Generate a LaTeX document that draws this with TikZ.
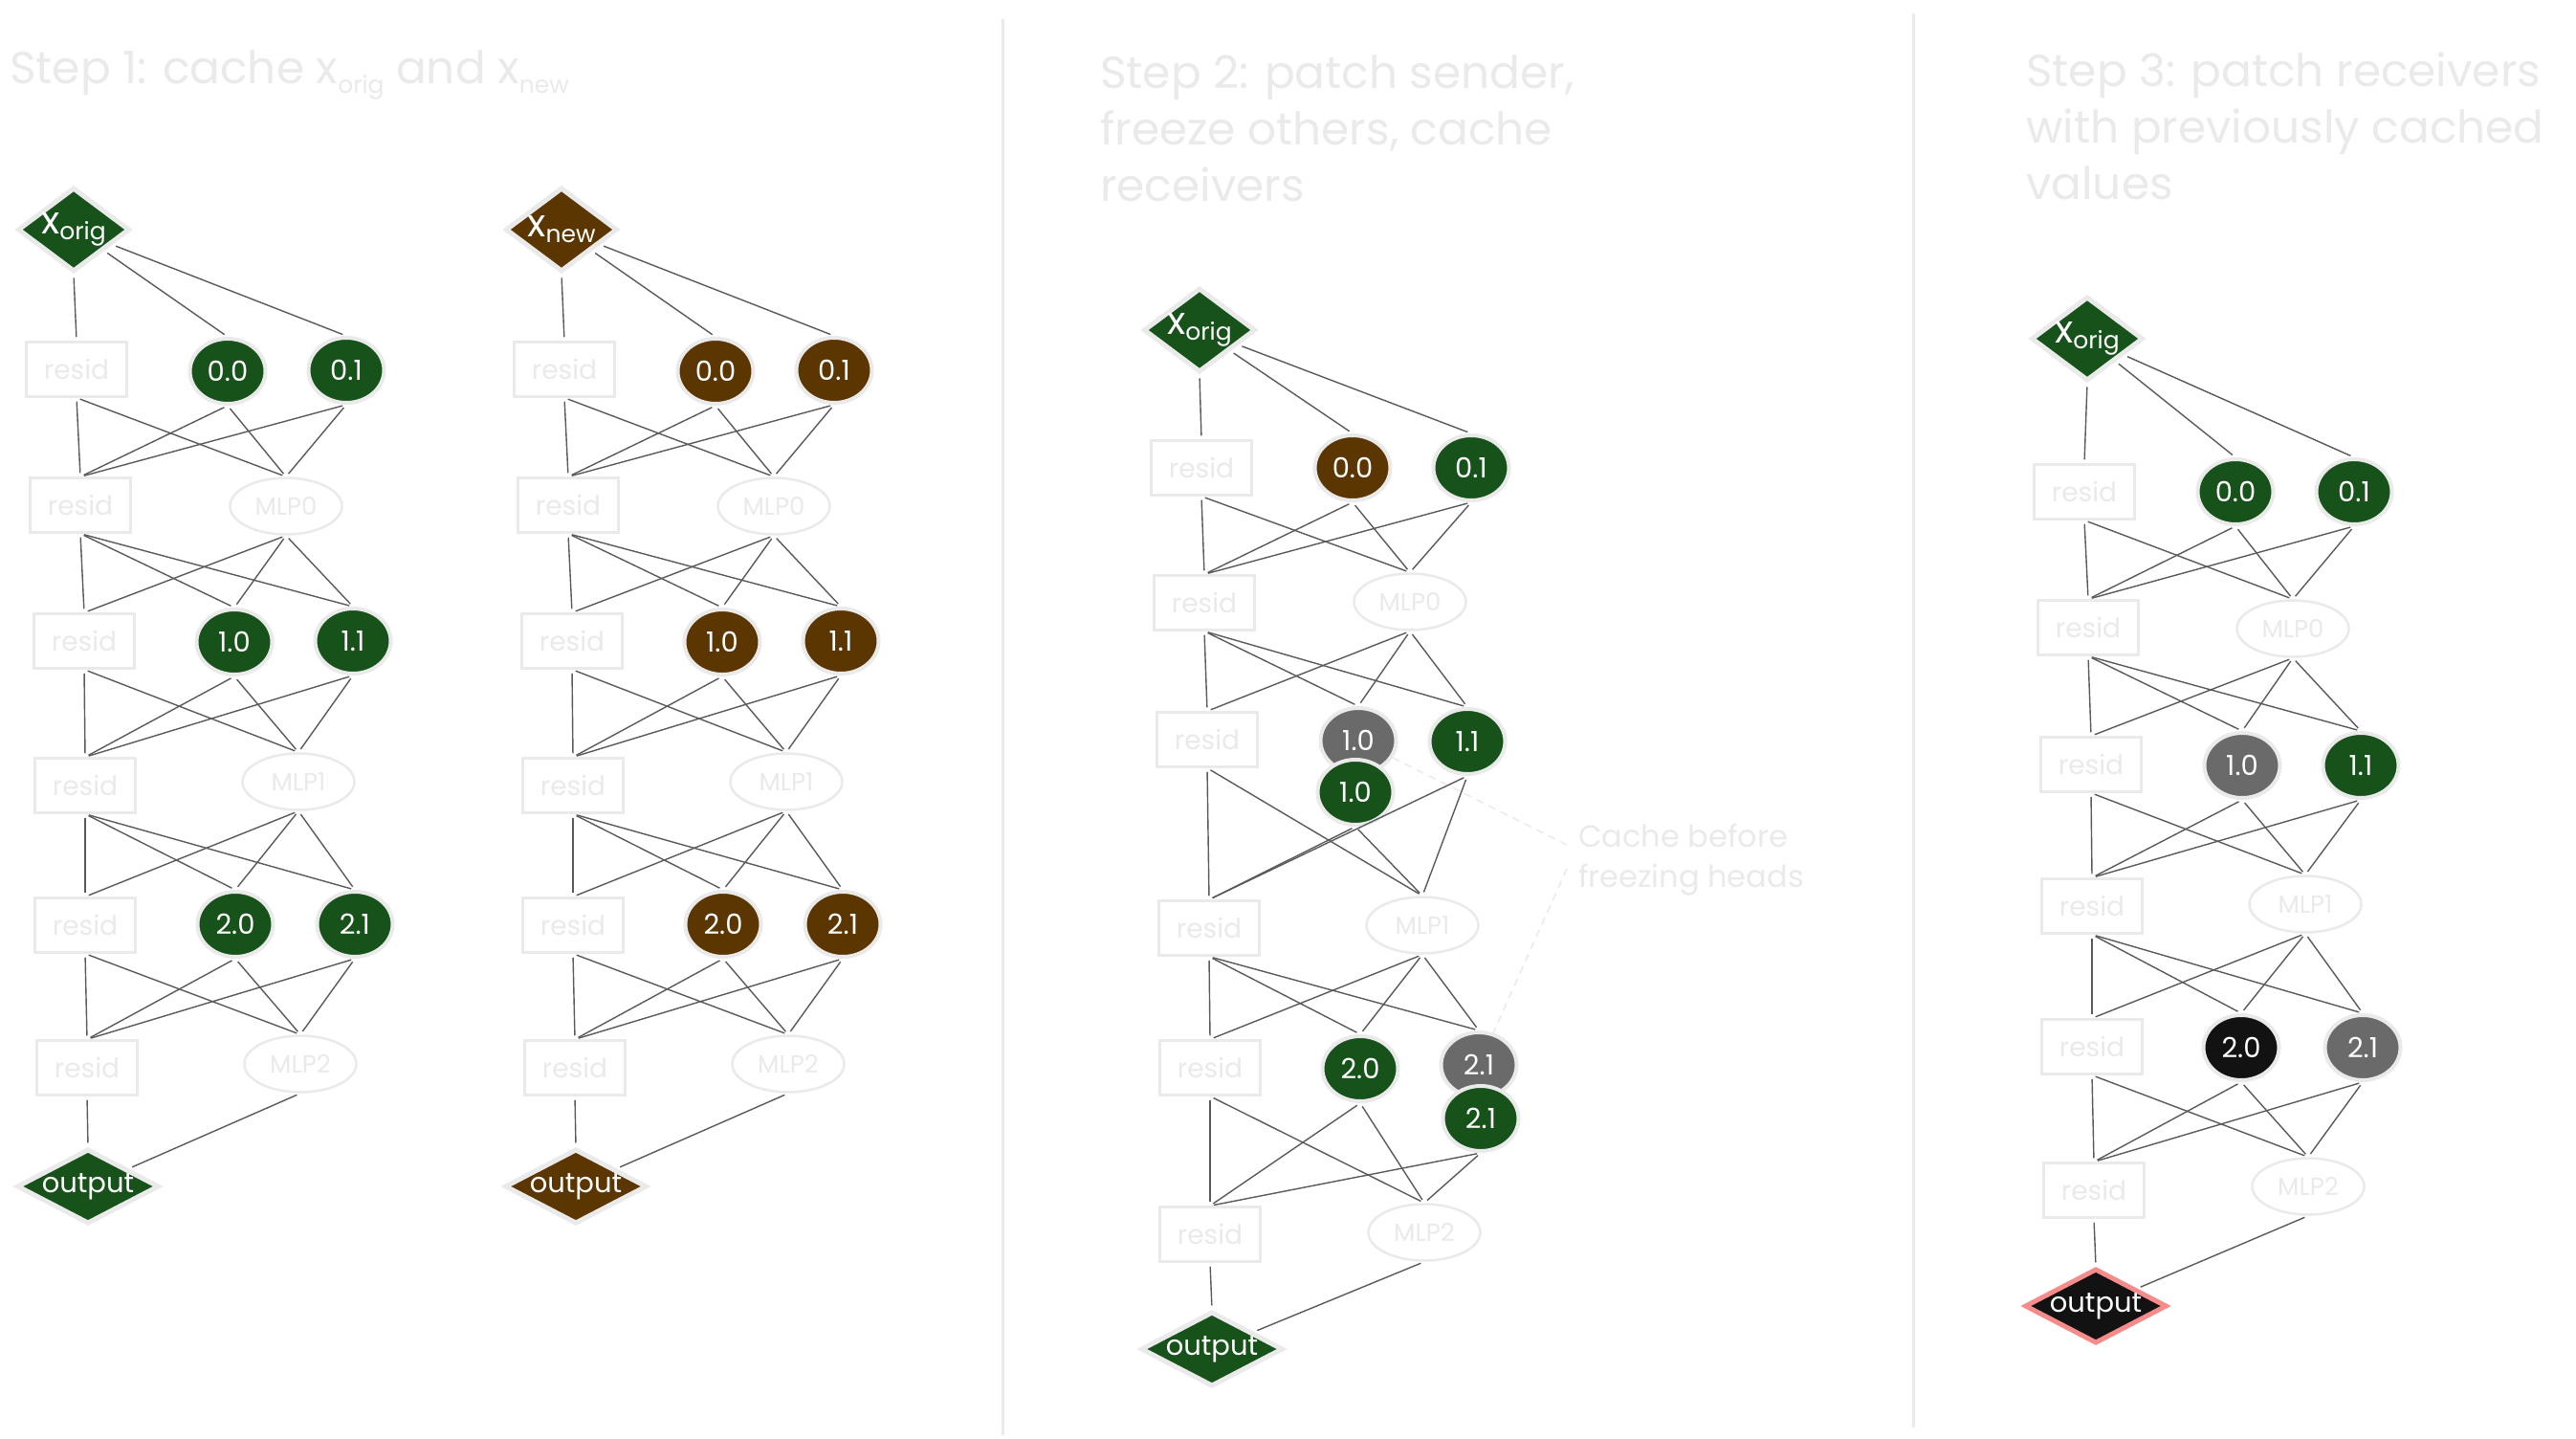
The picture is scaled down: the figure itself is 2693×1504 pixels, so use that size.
\documentclass[tikz,border=0pt]{standalone}
\usepackage{fontspec}
\setmainfont{Poppins}
\usetikzlibrary{shapes.geometric}
\definecolor{origgreen}{HTML}{165219}
\definecolor{newbrown}{HTML}{5C3600}
\definecolor{frozengray}{HTML}{6A6A6A}
\definecolor{patchblack}{HTML}{121212}
\definecolor{faint}{HTML}{EAEAEA}
\definecolor{wiregray}{HTML}{5A5A5A}
\definecolor{rimred}{HTML}{F78A8A}
\newcommand{\subtxt}[1]{\raisebox{-0.2em}{\fontsize{25}{25}\selectfont #1}}
\newcommand{\xsym}{{\fontsize{40}{40}\selectfont x}}

\begin{document}
\begin{tikzpicture}[x=1pt,y=-1pt,
  residbox/.style={rectangle,draw=faint,line width=2.5pt,minimum width=105pt,minimum height=57pt,text=faint,font=\fontsize{28}{28}\selectfont},
  mlpnode/.style={ellipse,draw=faint,line width=2.5pt,minimum width=117pt,minimum height=59pt,text=faint,font=\fontsize{26}{26}\selectfont},
  headnode/.style={ellipse,draw=faint,line width=4pt,fill=#1,minimum width=79pt,minimum height=68pt,inner sep=0pt,text=white,font=\fontsize{29}{29}\selectfont},
  srcnode/.style={diamond,draw=faint,line width=5pt,fill=#1,minimum width=117pt,minimum height=88pt,shape aspect=1.3,inner sep=0pt,text=white,font=\fontsize{30}{30}\selectfont},
  outnode/.style={diamond,draw=faint,line width=5pt,fill=#1,minimum width=148pt,minimum height=75pt,shape aspect=1.9,inner sep=0pt,text=white,font=\fontsize{29}{29}\selectfont},
  wire/.style={draw=wiregray,line width=1.4pt,shorten <=4pt,shorten >=4pt},
  cachewire/.style={draw=faint,line width=1.5pt,dash pattern=on 8pt off 6pt},
  titletext/.style={anchor=base west,align=left,text=faint,font=\fontsize{47}{59}\selectfont,inner sep=0pt},
  notetext/.style={anchor=west,align=left,text=faint,font=\fontsize{32}{42}\selectfont,inner sep=0pt},
  divider/.style={draw=faint,line width=3pt}]
\useasboundingbox[fill=white] (0,0) rectangle (2693,1504);
\draw[divider] (1048,20) -- (1048,1500);
\draw[divider] (2000,14) -- (2000,1492);

\node[titletext] (t1) at (10,88) {Step 1: cache x\subtxt{orig} and x\subtxt{new}};
\node[srcnode=origgreen] (a-in) at (77,240) {\xsym\subtxt{orig}};
\node[residbox] (a-r0) at (80,386) {resid};
\node[headnode=origgreen] (a-h00) at (238,388) {0.0};
\node[headnode=origgreen] (a-h01) at (362,387) {0.1};
\node[residbox] (a-r1) at (84,528) {resid};
\node[mlpnode] (a-m0) at (299,529) {MLP0};
\node[residbox] (a-r2) at (88,670) {resid};
\node[headnode=origgreen] (a-h10) at (245,671) {1.0};
\node[headnode=origgreen] (a-h11) at (369,670) {1.1};
\node[residbox] (a-r3) at (89,821) {resid};
\node[mlpnode] (a-m1) at (312,817) {MLP1};
\node[residbox] (a-r4) at (89,967) {resid};
\node[headnode=origgreen] (a-h20) at (246,966) {2.0};
\node[headnode=origgreen] (a-h21) at (371,966) {2.1};
\node[residbox] (a-r5) at (91,1116) {resid};
\node[mlpnode] (a-m2) at (314,1112) {MLP2};
\node[outnode=origgreen] (a-out) at (92,1240) {output};

\node[srcnode=newbrown] (b-in) at (587,240) {\xsym\subtxt{new}};
\node[residbox] (b-r0) at (590,386) {resid};
\node[headnode=newbrown] (b-h00) at (748,388) {0.0};
\node[headnode=newbrown] (b-h01) at (872,387) {0.1};
\node[residbox] (b-r1) at (594,528) {resid};
\node[mlpnode] (b-m0) at (809,529) {MLP0};
\node[residbox] (b-r2) at (598,670) {resid};
\node[headnode=newbrown] (b-h10) at (755,671) {1.0};
\node[headnode=newbrown] (b-h11) at (879,670) {1.1};
\node[residbox] (b-r3) at (599,821) {resid};
\node[mlpnode] (b-m1) at (822,817) {MLP1};
\node[residbox] (b-r4) at (599,967) {resid};
\node[headnode=newbrown] (b-h20) at (756,966) {2.0};
\node[headnode=newbrown] (b-h21) at (881,966) {2.1};
\node[residbox] (b-r5) at (601,1116) {resid};
\node[mlpnode] (b-m2) at (824,1112) {MLP2};
\node[outnode=newbrown] (b-out) at (602,1240) {output};

\node[titletext] (t2) at (1150,210) {Step 2: patch sender,\\freeze others, cache\\receivers};
\node[srcnode=origgreen] (c-in) at (1254,345) {\xsym\subtxt{orig}};
\node[residbox] (c-r0) at (1256,489) {resid};
\node[headnode=newbrown] (c-h00) at (1414,489) {0.0};
\node[headnode=origgreen] (c-h01) at (1538,489) {0.1};
\node[residbox] (c-r1) at (1259,630) {resid};
\node[mlpnode] (c-m0) at (1474,629) {MLP0};
\node[residbox] (c-r2) at (1262,773) {resid};
\node[headnode=frozengray] (c-h10) at (1420,774) {1.0};
\node[headnode=origgreen] (c-h10c) at (1417,828) {1.0};
\node[headnode=origgreen] (c-h11) at (1534,775) {1.1};
\node[residbox] (c-r3) at (1264,970) {resid};
\node[mlpnode] (c-m1) at (1487,967) {MLP1};
\node[residbox] (c-r4) at (1265,1116) {resid};
\node[headnode=origgreen] (c-h20) at (1422,1117) {2.0};
\node[headnode=frozengray] (c-h21) at (1546,1113) {2.1};
\node[headnode=origgreen] (c-h21c) at (1548,1169) {2.1};
\node[residbox] (c-r5) at (1265,1290) {resid};
\node[mlpnode] (c-m2) at (1489,1288) {MLP2};
\node[outnode=origgreen] (c-out) at (1267,1410) {output};
\node[notetext] (c-note) at (1650,899) {Cache before\\freezing heads};
\draw[cachewire] (c-h10) -- ([xshift=-12pt,yshift=16pt]c-note.west);
\draw[cachewire] ([xshift=-12pt,yshift=-9pt]c-note.west) -- (c-h21);

\node[titletext] (t3) at (2118,208) {Step 3: patch receivers\\with previously cached\\values};
\node[srcnode=origgreen] (d-in) at (2182,354) {\xsym\subtxt{orig}};
\node[residbox] (d-r0) at (2179,514) {resid};
\node[headnode=origgreen] (d-h00) at (2337,514) {0.0};
\node[headnode=origgreen] (d-h01) at (2461,514) {0.1};
\node[residbox] (d-r1) at (2183,656) {resid};
\node[mlpnode] (d-m0) at (2397,657) {MLP0};
\node[residbox] (d-r2) at (2186,799) {resid};
\node[headnode=frozengray] (d-h10) at (2344,800) {1.0};
\node[headnode=origgreen] (d-h11) at (2468,800) {1.1};
\node[residbox] (d-r3) at (2187,947) {resid};
\node[mlpnode] (d-m1) at (2410,945) {MLP1};
\node[residbox] (d-r4) at (2187,1094) {resid};
\node[headnode=patchblack] (d-h20) at (2343,1095) {2.0};
\node[headnode=frozengray] (d-h21) at (2470,1095) {2.1};
\node[residbox] (d-r5) at (2189,1244) {resid};
\node[mlpnode] (d-m2) at (2413,1240) {MLP2};
\node[outnode=patchblack,draw=rimred] (d-out) at (2191,1365) {output};

\foreach \p/\u/\v in {a/h10/h21,b/h10/h21,c/h10c/h21c,d/h10/h21}{
  \draw[wire] (\p-in.south) -- (\p-r0.north);
  \draw[wire] (\p-in) -- (\p-h00.north);
  \draw[wire] (\p-in) -- (\p-h01.north);
  \foreach \s in {r0,h00,h01} \foreach \t in {r1,m0} \draw[wire] (\p-\s.south) -- (\p-\t.north);
  \foreach \s in {r1,m0} \foreach \t in {r2,h10,h11} \draw[wire] (\p-\s.south) -- (\p-\t.north);
  \foreach \s in {r2,\u,h11} \foreach \t in {r3,m1} \draw[wire] (\p-\s.south) -- (\p-\t.north);
  \foreach \s in {r3,m1} \foreach \t in {r4,h20,h21} \draw[wire] (\p-\s.south) -- (\p-\t.north);
  \foreach \s in {r4,h20,\v} \foreach \t in {r5,m2} \draw[wire] (\p-\s.south) -- (\p-\t.north);
  \draw[wire] (\p-r5.south) -- (\p-out.north);
  \draw[wire] (\p-m2.south) -- (\p-out);
}
\end{tikzpicture}
\end{document}
